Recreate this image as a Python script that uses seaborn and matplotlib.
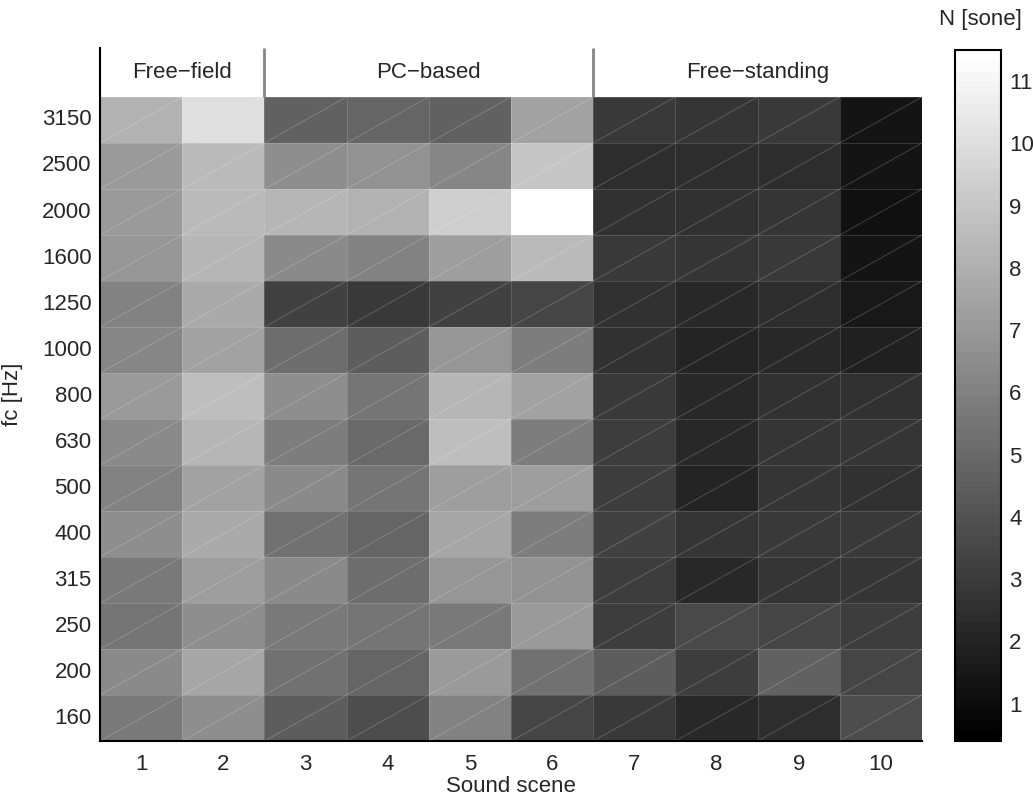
import matplotlib
matplotlib.use("Agg")
import matplotlib.pyplot as plt
import seaborn as sns
import pandas as pd
from matplotlib.collections import LineCollection

# ---------------------------------------------------------------------------
# loudness N [sone] per third-octave band (rows top -> bottom) and sound scene
fc_labels = ["3150", "2500", "2000", "1600", "1250", "1000", "800",
             "630", "500", "400", "315", "250", "200", "160"]
scenes = [str(i) for i in range(1, 11)]

scene_1 = [8.06, 7.10, 7.02, 6.84, 5.97, 6.23, 7.10, 6.41, 5.97, 6.49, 5.62, 5.54, 6.41, 5.62]
scene_2 = [10.02, 8.41, 8.41, 8.32, 7.71, 7.45, 8.58, 8.32, 7.36, 7.71, 7.19, 6.58, 7.63, 6.58]
scene_3 = [4.67, 6.58, 8.24, 6.32, 3.19, 5.10, 6.49, 5.80, 6.32, 5.28, 6.32, 5.71, 5.36, 4.49]
scene_4 = [4.84, 6.67, 8.06, 5.97, 2.84, 4.40, 5.45, 5.01, 5.45, 4.75, 5.10, 5.54, 4.84, 3.80]
scene_5 = [4.71, 6.15, 9.28, 7.28, 3.27, 6.93, 8.24, 8.58, 7.28, 7.63, 6.93, 5.71, 7.10, 6.06]
scene_6 = [7.36, 8.93, 11.50, 8.41, 3.45, 5.88, 7.45, 5.80, 7.19, 5.80, 6.67, 7.02, 5.36, 3.36]
scene_7 = [2.84, 2.32, 2.49, 2.84, 2.49, 2.58, 2.92, 3.10, 3.01, 3.27, 3.10, 3.10, 4.40, 2.84]
scene_8 = [2.75, 2.32, 2.49, 2.75, 2.23, 1.97, 2.14, 2.14, 1.97, 2.75, 2.23, 3.53, 3.10, 2.23]
scene_9 = [2.92, 2.40, 2.66, 2.84, 2.40, 2.14, 2.58, 2.66, 2.66, 2.92, 2.75, 3.36, 4.67, 2.40]
scene_10 = [1.44, 1.27, 1.10, 1.36, 1.53, 1.88, 2.49, 2.66, 2.58, 2.92, 2.66, 3.10, 3.36, 3.71]

groups = ["Free\u2212field", "PC\u2212based", "Free\u2212standing"]
group_sizes = [2, 4, 4]

# ---------------------------------------------------------------------------
df = pd.DataFrame(
    dict(zip(scenes, [scene_1, scene_2, scene_3, scene_4, scene_5,
                      scene_6, scene_7, scene_8, scene_9, scene_10])),
    index=fc_labels,
)

sns.set_style("white")
plt.rcParams["font.family"] = ["Liberation Sans", "DejaVu Sans"]
fs = 16

fig = plt.figure(figsize=(10.33, 8), dpi=100)
ax = fig.add_axes([0.0968, 0.0737, 0.7957, 0.8663])
cax = fig.add_axes([0.9245, 0.0737, 0.0445, 0.8637])

cmap = plt.get_cmap("gray", 64)
sns.heatmap(df, ax=ax, cbar_ax=cax, cmap=cmap, vmin=0.4, vmax=11.5,
            linewidths=0.6, linecolor=(1, 1, 1, 0.15))

n_rows, n_cols = df.shape
header_h = 1.065
ax.set_ylim(n_rows, -header_h)

# thin diagonal in every cell (rendering artefact of the original)
segs = [[(j, i + 1), (j + 1, i)] for i in range(n_rows) for j in range(n_cols)]
ax.add_collection(LineCollection(segs, colors=[(1, 1, 1, 0.22)], linewidths=0.6))

# header with group labels
start = 0
for name, size in zip(groups, group_sizes):
    ax.text(start + size / 2, -header_h / 2, name, ha="center", va="center", fontsize=fs)
    if start > 0:
        ax.plot([start, start], [0, -header_h], color="#858585", lw=2, solid_capstyle="butt")
    start += size

for sp in ["left", "bottom"]:
    ax.spines[sp].set_visible(True)
    ax.spines[sp].set_color("black")
    ax.spines[sp].set_linewidth(1.5)

ax.tick_params(axis="both", length=0, labelsize=fs)
ax.tick_params(axis="x", pad=9)
ax.tick_params(axis="y", pad=6)
plt.setp(ax.get_yticklabels(), rotation=0)
plt.setp(ax.get_xticklabels(), rotation=0)
ax.set_xlabel("Sound scene", fontsize=fs, labelpad=1)
ax.set_ylabel("fc [Hz]", fontsize=fs, labelpad=14)

# colorbar
cbar = ax.collections[0].colorbar
cbar.set_ticks(range(1, 12))
cbar.outline.set_edgecolor("black")
cbar.outline.set_linewidth(1.5)
cax.yaxis.set_ticks_position("both")
cax.tick_params(direction="in", length=6, width=1, color="#555555", labelsize=fs, pad=6)
fig.text(980 / 1033, 1 - 20 / 800, "N [sone]", ha="center", va="center", fontsize=fs)

plt.savefig("out.png", dpi=100)
